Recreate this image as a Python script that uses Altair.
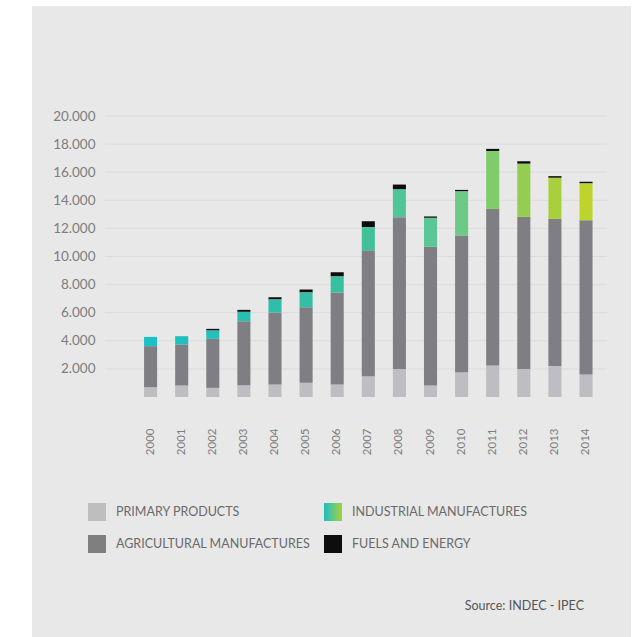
import altair as alt
import pandas as pd

years = [str(y) for y in range(2000, 2015)]
primary = [700, 820, 650, 840, 890, 1010, 890, 1480, 2000, 820, 1770, 2240, 2000, 2200, 1600]
agri = [2920, 2920, 3490, 4560, 5120, 5380, 6550, 8970, 10800, 9870, 9720, 11150, 10820, 10480, 10980]
industrial = [660, 590, 590, 660, 930, 1050, 1140, 1640, 1970, 2060, 3140, 4110, 3780, 2920, 2620]
fuels = [0, 0, 120, 140, 160, 210, 300, 420, 350, 100, 110, 160, 180, 120, 120]
industrial_colors = ["#1fbfc6", "#21bfc2", "#25bebb", "#2abdb1", "#2fbeaa", "#33bea5", "#38bf9f",
                     "#40c198", "#50c59a", "#5cc796", "#6cc988", "#80cb6a", "#95cd50", "#a8d03c", "#bcd42c"]
y_ticks = [2000, 4000, 6000, 8000, 10000, 12000, 14000, 16000, 18000, 20000]

CAT_P = "PRIMARY PRODUCTS"
CAT_A = "AGRICULTURAL MANUFACTURES"
CAT_I = "INDUSTRIAL MANUFACTURES"
CAT_F = "FUELS AND ENERGY"

rows = []
for i, yr in enumerate(years):
    base = 0
    for cat, vals in [(CAT_P, primary), (CAT_A, agri), (CAT_I, industrial), (CAT_F, fuels)]:
        v = vals[i]
        rows.append({"year": yr, "category": cat, "value": v, "start": base, "end": base + v,
                     "hex": industrial_colors[i]})
        base += v
df = pd.DataFrame(rows)
grid_df = pd.DataFrame({"v": y_ticks})

FONT = "Lato"
W, H = 502, 281
PAD_L, PAD_T = 105, 116

y_scale = alt.Scale(domain=[0, 20000], nice=False)
y_axis = alt.Axis(values=y_ticks, ticks=False, domain=False, labelPadding=10, zindex=1,
                  labelExpr="replace(format(datum.value, ','), ',', '.')",
                  labelFont=FONT, labelFontSize=13.5, labelColor="#7d7d7d",
                  grid=False)

panel = alt.Chart(alt.Data(values=[{"a": 1}])).mark_rect(color="#e8e8e8").encode(
    x=alt.value(32 - PAD_L), x2=alt.value(631 - PAD_L),
    y=alt.value(6 - PAD_T), y2=alt.value(637 - PAD_T),
)

grid = alt.Chart(grid_df).mark_rule(color="#dcdcdc", strokeWidth=1).encode(
    y=alt.Y("v:Q", scale=y_scale, axis=y_axis, title=None),
)

x_enc = alt.X("year:N", sort=years, title=None,
              scale=alt.Scale(paddingInner=0.58, paddingOuter=0.86, align=0.73),
              axis=alt.Axis(labelAngle=-90, labelPadding=31, ticks=False, domain=False, zindex=1,
                            labelFont=FONT, labelFontSize=11.5, labelColor="#7d7d7d"))

grad = {"expr": "{gradient: 'linear', stops: [{offset: 0, color: '#1fbfc6'}, {offset: 1, color: '#a6d13e'}]}"}

bars = alt.Chart(df).transform_filter(
    alt.datum.category != CAT_I
).mark_bar().encode(
    x=x_enc,
    y=alt.Y("start:Q", scale=y_scale, axis=y_axis, title=None),
    y2="end:Q",
    color=alt.Color("category:N",
                    scale=alt.Scale(domain=[CAT_P, CAT_A, CAT_I, CAT_F],
                                    range=["#bdbdc2", "#7f7f83", grad, "#0d0d0d"]),
                    legend=alt.Legend(orient="none", legendX=-17, legendY=387, columns=2,
                                      title=None, symbolType="square", symbolSize=324,
                                      symbolStrokeWidth=0, symbolOpacity=1,
                                      labelFont=FONT, labelFontSize=12.5, labelColor="#6a6a6a",
                                      labelOffset=10, rowPadding=14, columnPadding=13,
                                      labelLimit=400)),
)

ind = alt.Chart(df).transform_filter(
    alt.datum.category == CAT_I
).mark_bar().encode(
    x=alt.X("year:N", sort=years),
    y=alt.Y("start:Q", scale=y_scale, axis=y_axis, title=None),
    y2="end:Q",
    fill=alt.Fill("hex:N", scale=None),
)

source = alt.Chart(alt.Data(values=[{"a": 1}])).mark_text(
    align="right", baseline="middle", font=FONT, fontSize=12.5, color="#555555"
).encode(
    x=alt.value(584 - PAD_L), y=alt.value(606 - PAD_T), text=alt.value("Source: INDEC - IPEC")
)

chart = alt.layer(panel, grid, bars, ind, source).properties(
    width=W, height=H,
    autosize=alt.AutoSizeParams(type="none"),
    padding={"left": PAD_L, "top": PAD_T, "right": 638 - PAD_L - W, "bottom": 637 - PAD_T - H},
    background="white",
).configure_view(stroke=None)

chart.save("out.html", embed_options={"renderer": "svg", "actions": False})
